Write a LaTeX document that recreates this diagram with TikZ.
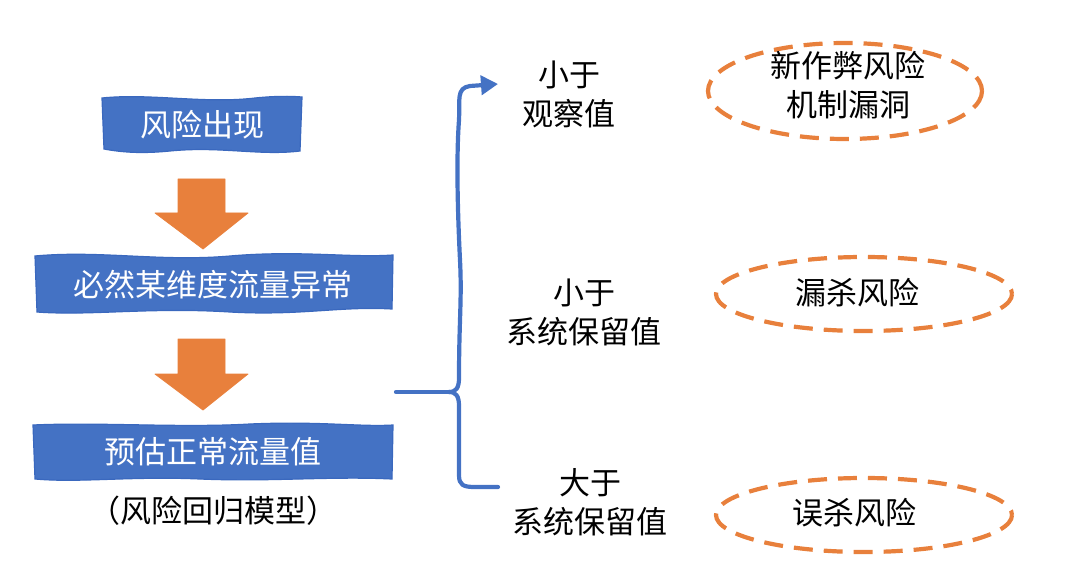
\documentclass[tikz,border=0pt]{standalone}
\usepackage{fontspec}
\newfontfamily\cjk{Noto Sans CJK SC}
\usetikzlibrary{arrows.meta}
\definecolor{bblue}{HTML}{4472C4}
\definecolor{bblueedge}{HTML}{3A68BE}
\definecolor{borange}{HTML}{E8803C}
\begin{document}
\begin{tikzpicture}[x=1pt,y=-1pt,
  every node/.style={font=\cjk\fontsize{31pt}{39pt}\selectfont, inner sep=0pt, align=center},
  banner/.style={fill=bblue, draw=bblueedge, line width=1.2pt},
  btext/.style={text=white},
  downarrow/.style={fill=borange, draw=borange, line width=0.8pt, line join=round},
  bracel/.style={draw=bblue, line width=4.2pt, line cap=round, line join=round},
  risk/.style={draw=borange, line width=4.2pt, dash pattern=on 19pt off 11pt},
  lbl/.style={text=black}]
\useasboundingbox (0,0) rectangle (1080,583);

% banners
\path[banner] (102,98) .. controls (150,93) and (205,104) .. (255,98) .. controls (275,96) and (290,96) .. (302,97)
  -- (300,151) .. controls (260,156) and (220,146) .. (170,151) .. controls (140,154) and (120,152) .. (104,149) -- cycle;
\path[banner] (35,256) .. controls (100,250) and (160,262) .. (230,256) .. controls (300,250) and (350,258) .. (393,255)
  -- (392,309) .. controls (340,306) and (300,316) .. (230,312) .. controls (150,307) and (90,316) .. (37,312) -- cycle;
\path[banner] (33,425) .. controls (100,422) and (180,428) .. (250,424) .. controls (320,421) and (360,427) .. (393,425)
  -- (392,479) .. controls (330,476) and (270,482) .. (200,479) .. controls (130,476) and (80,483) .. (35,479) -- cycle;

\node[btext] (b1) at (202,125) {风险出现};
\node[btext] (b2) at (213,285) {必然某维度流量异常};
\node[btext] (b3) at (213,452) {预估正常流量值};
\node[lbl] (sub) at (213,511) {（风险回归模型）};

% orange arrows
\path[downarrow] (178,179) -- (225,179) -- (225,213) -- (248,213) -- (203,249) -- (155,213) -- (178,213) -- cycle;
\path[downarrow] (178,339) -- (225,339) -- (225,374) -- (248,374) -- (203,410) -- (155,374) -- (178,374) -- cycle;

% condition labels
\node[lbl] (t1) at (569,94) {小于\\观察值};
\node[lbl] (t2) at (584,312) {小于\\系统保留值};
\node[lbl] (t3) at (590,502) {大于\\系统保留值};

% brace
\coordinate (bs) at (396,392);
\coordinate (bm) at (449,392);
\coordinate (btop) at (498,84);
\coordinate (bbot) at (498,487);
\draw[bracel] (bs) -- (bm);
\draw[bracel, -{Triangle[length=17pt,width=19pt]}] (bm) .. controls (456,392) and (459,388) .. (459,378)
  .. controls (459,320) and (462,300) .. (460,260) .. controls (458,220) and (456,160) .. (459,120)
  .. controls (460,100) and (456,88) .. (470,86) -- (btop);
\draw[bracel] (bm) .. controls (456,392) and (459,396) .. (459,406)
  -- (459,475) .. controls (459,485) and (463,487) .. (475,487) -- (bbot);

% risk ellipses
\draw[risk] (845,91) ellipse [x radius=137, y radius=48];
\draw[risk] (864,294) ellipse [x radius=148, y radius=37];
\draw[risk] (864,515) ellipse [x radius=148, y radius=37];
\node[lbl] (r1) at (848,85) {新作弊风险\\机制漏洞};
\node[lbl] (r2) at (857,293) {漏杀风险};
\node[lbl] (r3) at (854,513) {误杀风险};
\end{tikzpicture}
\end{document}
